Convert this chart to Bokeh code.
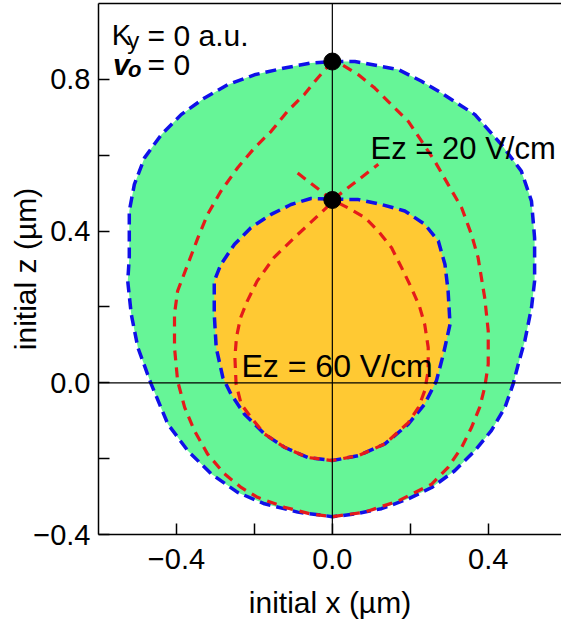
from bokeh.plotting import figure
from bokeh.models import Range1d, FixedTicker, LinearAxis, Span, Label
from bokeh.embed import file_html
from bokeh.resources import INLINE

# ---------------- data ----------------
outer_x = [0, 0.058, 0.169, 0.229, 0.280, 0.366, 0.434, 0.485, 0.511, 0.519, 0.519, 0.511, 0.494,
           0.477, 0.464, 0.443, 0.408, 0.366, 0.314, 0.255, 0.195, 0.126, 0.058, 0, -0.089, -0.174,
           -0.243, -0.311, -0.371, -0.422, -0.465, -0.499, -0.516, -0.525, -0.521, -0.521, -0.508,
           -0.482, -0.439, -0.388, -0.328, -0.268, -0.200, -0.123, -0.055, 0]
outer_z = [0.847, 0.847, 0.826, 0.795, 0.764, 0.707, 0.628, 0.558, 0.479, 0.382, 0.268, 0.198, 0.111,
           0.049, -0.003, -0.065, -0.126, -0.179, -0.232, -0.276, -0.306, -0.332, -0.346, -0.353,
           -0.341, -0.319, -0.289, -0.240, -0.179, -0.109, -0.003, 0.093, 0.181, 0.268, 0.330, 0.453,
           0.523, 0.593, 0.654, 0.707, 0.751, 0.786, 0.812, 0.830, 0.843, 0.847]

inner_x = [0, 0.067, 0.126, 0.186, 0.237, 0.272, 0.289, 0.297, 0.302, 0.285, 0.267, 0.237, 0.195,
           0.135, 0.067, 0, -0.063, -0.123, -0.174, -0.226, -0.260, -0.281, -0.298, -0.303, -0.303,
           -0.286, -0.251, -0.209, -0.157, -0.106, -0.055, 0]
inner_z = [0.484, 0.483, 0.470, 0.453, 0.418, 0.374, 0.312, 0.242, 0.154, 0.076, 0.005, -0.056,
           -0.109, -0.161, -0.192, -0.205, -0.197, -0.170, -0.135, -0.082, -0.030, 0.014, 0.093,
           0.181, 0.268, 0.312, 0.365, 0.409, 0.444, 0.470, 0.486, 0.484]

red20_x = [0, -0.038, -0.072, -0.115, -0.157, -0.200, -0.243, -0.286, -0.320, -0.345, -0.371, -0.397,
           -0.405, -0.405, -0.397, -0.379, -0.354, -0.320, -0.277, -0.234, -0.192, -0.123, -0.055, 0,
           0.084, 0.170, 0.255, 0.297, 0.332, 0.357, 0.378, 0.391, 0.400, 0.400, 0.391, 0.374, 0.357,
           0.332, 0.297, 0.263, 0.229, 0.195, 0.152, 0.109, 0.067, 0.024, 0]
red20_z = [0.847, 0.803, 0.760, 0.716, 0.663, 0.619, 0.567, 0.505, 0.444, 0.382, 0.312, 0.242, 0.181,
           0.093, 0.005, -0.065, -0.126, -0.188, -0.240, -0.276, -0.302, -0.328, -0.346, -0.353,
           -0.341, -0.311, -0.267, -0.223, -0.170, -0.118, -0.065, -0.012, 0.049, 0.137, 0.224,
           0.330, 0.391, 0.461, 0.523, 0.584, 0.637, 0.689, 0.733, 0.777, 0.812, 0.839, 0.847]

red60_x = [-0.089, 0, 0.041, 0.084, 0.118, 0.152, 0.178, 0.203, 0.224, 0.237, 0.246, 0.246, 0.237,
           0.221, 0.195, 0.135, 0.067, 0, -0.063, -0.123, -0.174, -0.209, -0.234, -0.247, -0.250,
           -0.246, -0.236, -0.218, -0.193, -0.150, -0.095, -0.050, -0.015, 0, 0.118]
red60_z = [0.553, 0.482, 0.461, 0.435, 0.400, 0.356, 0.303, 0.250, 0.200, 0.154, 0.093, 0.032,
           -0.021, -0.065, -0.105, -0.161, -0.192, -0.205, -0.197, -0.170, -0.135, -0.091, -0.056,
           -0.003, 0.067, 0.120, 0.170, 0.216, 0.268, 0.330, 0.385, 0.428, 0.462, 0.482, 0.576]

dot_x = [0, 0]
dot_z = [0.847, 0.482]

x_ticks = [-0.4, -0.2, 0.0, 0.2, 0.4]
x_tick_labels = {-0.4: "\u22120.4", -0.2: "", 0.0: "0.0", 0.2: "", 0.4: "0.4"}
y_ticks = [-0.4, -0.2, 0.0, 0.2, 0.4, 0.6, 0.8]
y_tick_labels = {-0.4: "\u22120.4", -0.2: "", 0.0: "0.0", 0.2: "", 0.4: "0.4", 0.6: "", 0.8: "0.8"}

# ---------------- styling ----------------
FONT = "Liberation Sans"
GREEN = "#66F597"
ORANGE = "#FFC933"
BLUE = "#1010E8"
RED = "#E51A1A"

p = figure(width=561, height=633,
           x_range=Range1d(-0.6, 0.588), y_range=Range1d(-0.4, 1.0),
           output_backend="svg", toolbar_location=None,
           min_border_left=98, min_border_right=0, min_border_top=3, min_border_bottom=99)
p.outline_line_color = None
p.grid.visible = False
p.background_fill_color = "white"
p.border_fill_color = "white"

# regions
p.patch(outer_x, outer_z, fill_color=GREEN, line_color=None)
p.patch(inner_x, inner_z, fill_color=ORANGE, line_color=None)

# reference axes lines through origin
p.add_layout(Span(location=0, dimension="height", line_color="black", line_width=1.2))
p.add_layout(Span(location=0, dimension="width", line_color="black", line_width=1.2))

# boundaries
p.line(outer_x, outer_z, line_color=BLUE, line_width=3.5, line_dash="11 6")
p.line(inner_x, inner_z, line_color=BLUE, line_width=3.5, line_dash="11 6")
p.line(red20_x, red20_z, line_color=RED, line_width=3.2, line_dash="10 7")
p.line(red60_x, red60_z, line_color=RED, line_width=3.2, line_dash="10 7")

p.scatter(dot_x, dot_z, size=17, fill_color="black", line_color="black")

# axes
for ax, ticks, labels in ((p.xaxis[0], x_ticks, x_tick_labels), (p.yaxis[0], y_ticks, y_tick_labels)):
    ax.ticker = FixedTicker(ticks=ticks)
    ax.major_label_overrides = labels
    ax.major_tick_in = 11
    ax.major_tick_out = 0
    ax.minor_tick_in = 0
    ax.minor_tick_out = 0
    ax.axis_line_width = 1.5
    ax.major_tick_line_width = 1.5
    ax.major_label_text_font = FONT
    ax.major_label_text_font_size = "29px"
    ax.major_label_text_color = "black"
    ax.axis_label_text_font = FONT
    ax.axis_label_text_font_size = "30px"
    ax.axis_label_text_font_style = "normal"
    ax.axis_label_text_color = "black"

p.xaxis[0].axis_label = "initial x (\u00b5m)"
p.xaxis[0].major_label_standoff = 14
p.xaxis[0].axis_label_standoff = 14
p.yaxis[0].axis_label = "initial z (\u00b5m)"
p.yaxis[0].major_label_standoff = 8
p.yaxis[0].axis_label_standoff = -12

top = LinearAxis(ticker=FixedTicker(ticks=[]), major_tick_in=0, major_tick_out=0,
                 minor_tick_in=0, minor_tick_out=0, major_label_standoff=0,
                 axis_line_width=1.5)
p.add_layout(top, "above")

# annotations
def lab(x, y, text, size, style="normal"):
    p.add_layout(Label(x=x, y=y, text=text, text_font=FONT, text_font_size=size,
                       text_font_style=style, text_color="black",
                       text_align="left", text_baseline="alphabetic"))

lab(-0.566, 0.916, "K", "29px")
lab(-0.526, 0.902, "y", "24px")
lab(-0.474, 0.916, "= 0 a.u.", "30px")
lab(-0.563, 0.839, "v", "30px", "bold italic")
lab(-0.524, 0.825, "o", "22px", "bold italic")
lab(-0.474, 0.839, "= 0", "30px")
lab(0.098, 0.619, "Ez = 20 V/cm", "31px")
lab(-0.233, 0.045, "Ez = 60 V/cm", "32px")

open("out.html", "w").write(file_html(p, INLINE))
